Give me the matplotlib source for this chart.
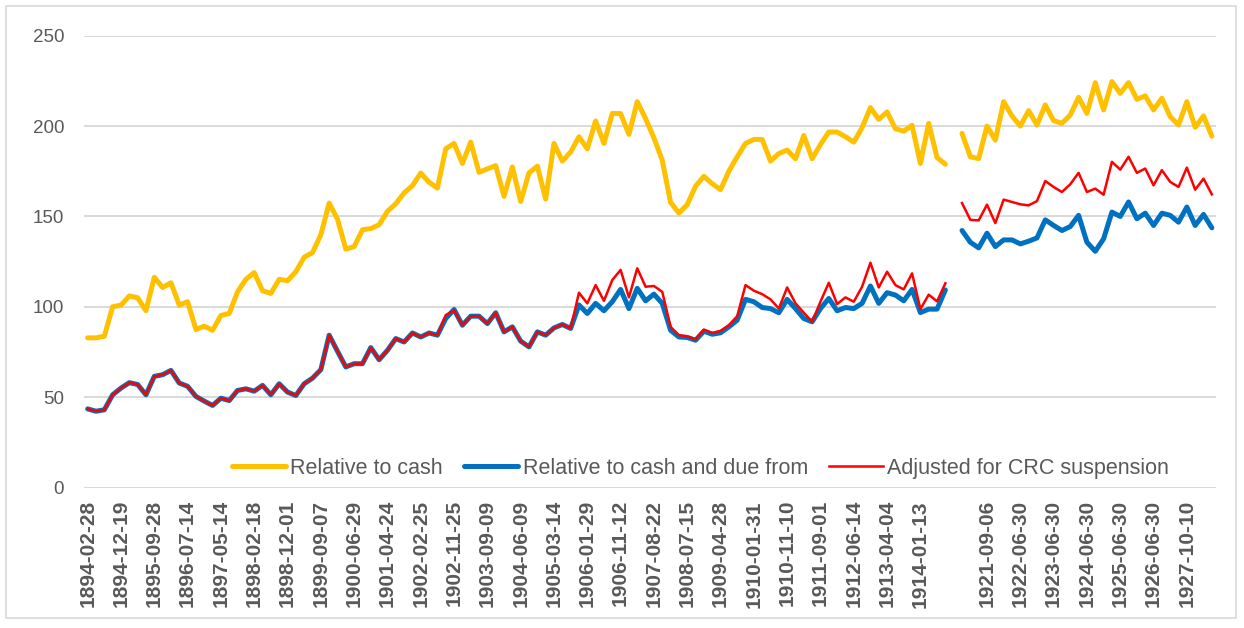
import numpy as np
import matplotlib.pyplot as plt
from matplotlib.patches import Rectangle

# Ratios, 136 categories; index 104 is the break (no data, blank label)
cash_pre = [82.8, 82.8, 83.7, 100, 100.9, 106, 105, 97.8, 116.3, 110.7,
            113.3, 100.9, 102.8, 87.4, 89.3, 87, 95.2, 96.3, 108.3, 115.2,
            118.9, 108.9, 107.4, 115.2, 114.4, 119.4, 127.4, 130, 139.8, 157.4,
            148.5, 131.9, 133.3, 142.6, 143.3, 145.4, 152.8, 157, 163, 167,
            174, 168.9, 165.7, 187.4, 190.4, 179.3, 191.1, 174.4, 176.3, 178.1,
            161.1, 177.4, 158.3, 174.1, 177.8, 159.6, 190.4, 180.6, 185.6, 194.1,
            187.4, 202.8, 190.4, 207, 206.9, 195.4, 213.5, 204.1, 193.5, 181.1,
            157.8, 151.9, 156.5, 166.7, 172.2, 168.1, 164.8, 175, 183, 190.4,
            192.6, 192.6, 180.6, 184.8, 186.7, 181.9, 194.8, 181.9, 189.8, 196.7,
            196.7, 194.1, 191.1, 199.1, 210.2, 203.7, 207.8, 198.5, 197.2, 200.4,
            179.3, 201.5, 182.6, 178.9]
cash_post = [195.9, 183, 182, 200, 192.2, 213.5, 205.6, 200, 208.5, 200.6,
             211.7, 203, 201.5, 206.1, 215.9, 207, 224, 208.9, 224.6, 218.1,
             224, 214.8, 216.7, 208.9, 215.4, 205.2, 200.6, 213.5, 199.3, 205.6,
             194.4]

due_pre = [43.5, 42.2, 43, 51.3, 55, 58, 57, 51.3, 61.5, 62.4,
           64.8, 57.8, 56, 50.4, 47.8, 45.4, 49.4, 48.1, 53.7, 54.6,
           53.3, 56.5, 51.3, 57.4, 52.8, 50.9, 57.4, 60.5, 65.2, 84.3,
           75.4, 66.7, 68.5, 68.5, 77.4, 70.7, 75.9, 82.4, 80.5, 85.5,
           83.3, 85.5, 84.3, 93.5, 98.5, 89.8, 94.8, 94.8, 90.7, 96.7,
           86.1, 88.9, 81, 77.8, 86.1, 84.3, 88.3, 90.2, 88, 101,
           96.3, 101.9, 97.8, 102.8, 109.6, 99, 110.2, 103.3, 107, 101.9,
           87, 83.3, 83, 81.5, 86.5, 84.8, 85.6, 88.9, 92.6, 104.1,
           102.8, 99.6, 99, 96.7, 104.1, 99, 93.5, 91.7, 99, 104.6,
           97.8, 99.6, 99, 101.9, 111.5, 101.9, 107.8, 106.5, 103.3, 109.6,
           96.8, 98.7, 98.7, 109.3]
due_post = [142.2, 135.7, 132.6, 140.7, 133.3, 137, 137, 134.8, 136.3, 138.1,
            148.1, 145, 142.2, 144.4, 150.6, 135.7, 130.7, 137.6, 152.4, 150,
            158, 148.7, 151.8, 145, 151.8, 150.6, 146.8, 155.2, 145, 151.1,
            143.7]

crc_pre = [43.5, 42.2, 43, 51.3, 55, 58, 57, 51.3, 61.5, 62.4,
           64.8, 57.8, 56, 50.4, 47.8, 45.4, 49.4, 48.1, 53.7, 54.6,
           53.3, 56.5, 51.3, 57.4, 52.8, 50.9, 57.4, 60.5, 65.2, 84.3,
           75.4, 66.7, 68.5, 68.5, 77.4, 70.7, 75.9, 82.4, 80.5, 85.5,
           83.3, 85.5, 84.3, 95.4, 98, 89.8, 94.8, 94.8, 90.7, 96.7,
           86.1, 88.9, 81, 77.8, 86.1, 84.3, 88.3, 90.2, 88, 107.8,
           101.9, 112, 103.3, 114.8, 120.4, 105.2, 121.3, 111.1, 111.5, 108.3,
           88.9, 84.3, 83.7, 81.9, 87.4, 85.5, 86.7, 89.8, 94.8, 112,
           108.9, 107, 104.1, 99, 110.7, 101.9, 96.7, 91.7, 102.8, 113.3,
           101.5, 105.2, 102.8, 111.1, 124.4, 110.7, 119.4, 112, 109.6, 118.5,
           98.7, 106.7, 103, 113]
crc_post = [157.4, 148.1, 147.8, 156.5, 146.3, 159.3, 158, 156.7, 156.1, 158.5,
            169.6, 166.3, 163.5, 167.8, 174.1, 163.5, 165.4, 162, 180.2, 175.9,
            183, 174.1, 176.5, 167.2, 175.6, 169.1, 166.3, 177, 164.8, 170.9,
            162.2]

# shown every 4th category
tick_labels = ["1894-02-28", "1894-12-19", "1895-09-28", "1896-07-14", "1897-05-14",
               "1898-02-18", "1898-12-01", "1899-09-07", "1900-06-29", "1901-04-24",
               "1902-02-25", "1902-11-25", "1903-09-09", "1904-06-09", "1905-03-14",
               "1906-01-29", "1906-11-12", "1907-08-22", "1908-07-15", "1909-04-28",
               "1910-01-31", "1910-11-10", "1911-09-01", "1912-06-14", "1913-04-04",
               "1914-01-13", "", "1921-09-06", "1922-06-30", "1923-06-30",
               "1924-06-30", "1925-06-30", "1926-06-30", "1927-10-10"]


def join(pre, post):
    return np.array(pre + [np.nan] + post, dtype=float)


cash = join(cash_pre, cash_post)
due = join(due_pre, due_post)
crc = join(crc_pre, crc_post)
x = np.arange(len(cash))

grey = "#595959"
fig = plt.figure(figsize=(12.44, 6.28), dpi=100)
ax = fig.add_axes([83.5 / 1244, 1 - 487.5 / 628, 1132.5 / 1244, 451.8 / 628])

ax.plot(x, cash, color="#FFC000", lw=3.6, label="Relative to cash", solid_capstyle="round", solid_joinstyle="round")
ax.plot(x, due, color="#0070C0", lw=3.6, label="Relative to cash and due from", solid_capstyle="round", solid_joinstyle="round")
ax.plot(x, crc, color="#FF0000", lw=1.8, label="Adjusted for CRC suspension", solid_joinstyle="round")

ax.set_xlim(-0.5, len(cash) - 0.5)
ax.set_ylim(0, 250)
ax.set_yticks(range(0, 251, 50))
ax.yaxis.grid(True, color="#D9D9D9", lw=1.4)
ax.set_axisbelow(True)
for s in ax.spines.values():
    s.set_visible(False)

ax.set_xticks(x[::4])
ax.set_xticklabels(tick_labels, rotation=90, fontsize=15, fontweight="bold",
                   family="Liberation Sans", color=grey)
ax.tick_params(axis="x", length=0, pad=9)
ax.tick_params(axis="y", length=0, pad=14, labelsize=13.5, labelcolor=grey)
for t in ax.get_yticklabels():
    t.set_family("Liberation Sans")

leg = ax.legend(loc="center", bbox_to_anchor=(0.545, 0.043), ncol=3, frameon=False,
                prop={"family": "Liberation Sans", "size": 15.5},
                handlelength=2.5, handletextpad=0.2, columnspacing=1.0)
for t in leg.get_texts():
    t.set_color(grey)

fig.patches.append(Rectangle((6 / 1244, 10 / 628), 1230 / 1244, 612 / 628,
                             transform=fig.transFigure, fill=False,
                             edgecolor="#D9D9D9", lw=1.2))

fig.savefig("out.png", dpi=100)
